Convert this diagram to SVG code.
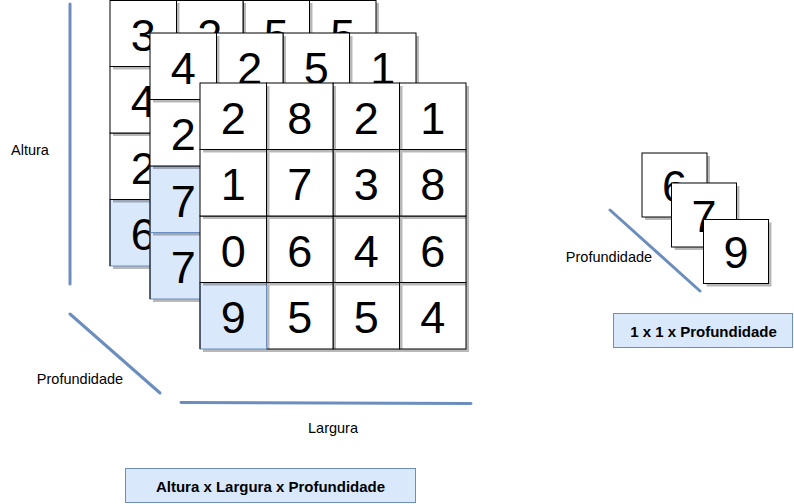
<svg xmlns="http://www.w3.org/2000/svg" width="794" height="504" viewBox="0 0 794 504">
<style>
.c{fill:#fff;stroke:#000;stroke-width:1}
.b{fill:#dae8fc;stroke:#6c8ebf;stroke-width:1}
.s{fill:#000;fill-opacity:.28;stroke:none}
.d{font-family:"Liberation Sans",Arial,sans-serif;font-size:45px;text-anchor:middle;fill:#000}
.l{font-family:"Liberation Sans",Arial,sans-serif;font-size:14.5px;text-anchor:middle;fill:#000}
.t{font-family:"Liberation Sans",Arial,sans-serif;font-size:15px;font-weight:bold;text-anchor:middle;fill:#000}
.ax{stroke:#6c8ebf;stroke-width:3;fill:none;stroke-linecap:round}
.bx{fill:#dae8fc;stroke:#6c8ebf;stroke-width:1}
</style>
<rect width="794" height="504" fill="#fff"/>

<g id="grid-back">
<g id="back-r3c3"><rect class="s" x="312.5" y="202.5" width="66.5" height="66.5"/><rect class="c" x="309.5" y="199.5" width="66.5" height="66.5"/></g>
<g id="back-r3c2"><rect class="s" x="246" y="202.5" width="66.5" height="66.5"/><rect class="c" x="243" y="199.5" width="66.5" height="66.5"/></g>
<g id="back-r3c1"><rect class="s" x="179.5" y="202.5" width="66.5" height="66.5"/><rect class="c" x="176.5" y="199.5" width="66.5" height="66.5"/></g>
<g id="back-r3c0"><rect class="s" x="113" y="202.5" width="66.5" height="66.5"/><rect class="b" x="110" y="199.5" width="66.5" height="66.5"/><line x1="110" y1="199.5" x2="110" y2="266" stroke="#000"/><text class="d" x="143.25" y="250">6</text></g>
<g id="back-r2c3"><rect class="s" x="312.5" y="136" width="66.5" height="66.5"/><rect class="c" x="309.5" y="133" width="66.5" height="66.5"/></g>
<g id="back-r2c2"><rect class="s" x="246" y="136" width="66.5" height="66.5"/><rect class="c" x="243" y="133" width="66.5" height="66.5"/></g>
<g id="back-r2c1"><rect class="s" x="179.5" y="136" width="66.5" height="66.5"/><rect class="c" x="176.5" y="133" width="66.5" height="66.5"/></g>
<g id="back-r2c0"><rect class="s" x="113" y="136" width="66.5" height="66.5"/><rect class="c" x="110" y="133" width="66.5" height="66.5"/><text class="d" x="143.25" y="183.5">2</text></g>
<g id="back-r1c3"><rect class="s" x="312.5" y="69.5" width="66.5" height="66.5"/><rect class="c" x="309.5" y="66.5" width="66.5" height="66.5"/></g>
<g id="back-r1c2"><rect class="s" x="246" y="69.5" width="66.5" height="66.5"/><rect class="c" x="243" y="66.5" width="66.5" height="66.5"/></g>
<g id="back-r1c1"><rect class="s" x="179.5" y="69.5" width="66.5" height="66.5"/><rect class="c" x="176.5" y="66.5" width="66.5" height="66.5"/></g>
<g id="back-r1c0"><rect class="s" x="113" y="69.5" width="66.5" height="66.5"/><rect class="c" x="110" y="66.5" width="66.5" height="66.5"/><text class="d" x="143.25" y="117">4</text></g>
<g id="back-r0c3"><rect class="s" x="312.5" y="3" width="66.5" height="66.5"/><rect class="c" x="309.5" y="0.5" width="66.5" height="66"/><text class="d" x="342.75" y="50.5">5</text></g>
<g id="back-r0c2"><rect class="s" x="246" y="3" width="66.5" height="66.5"/><rect class="c" x="243" y="0.5" width="66.5" height="66"/><text class="d" x="276.25" y="50.5">5</text></g>
<g id="back-r0c1"><rect class="s" x="179.5" y="3" width="66.5" height="66.5"/><rect class="c" x="176.5" y="0.5" width="66.5" height="66"/><text class="d" x="209.75" y="50.5">2</text></g>
<g id="back-r0c0"><rect class="s" x="113" y="3" width="66.5" height="66.5"/><rect class="c" x="110" y="0.5" width="66.5" height="66"/><text class="d" x="143.25" y="50.5">3</text></g>
</g>

<g id="grid-middle">
<g id="mid-r3c3"><rect class="s" x="352.5" y="235.5" width="66.5" height="66.5"/><rect class="c" x="349.5" y="232.5" width="66.5" height="66.5"/></g>
<g id="mid-r3c2"><rect class="s" x="286" y="235.5" width="66.5" height="66.5"/><rect class="c" x="283" y="232.5" width="66.5" height="66.5"/></g>
<g id="mid-r3c1"><rect class="s" x="219.5" y="235.5" width="66.5" height="66.5"/><rect class="c" x="216.5" y="232.5" width="66.5" height="66.5"/></g>
<g id="mid-r3c0"><rect class="s" x="153" y="235.5" width="66.5" height="66.5"/><rect class="b" x="150" y="232.5" width="66.5" height="66.5"/><line x1="150" y1="232.5" x2="150" y2="299" stroke="#000"/><text class="d" x="183.25" y="283">7</text></g>
<g id="mid-r2c3"><rect class="s" x="352.5" y="169" width="66.5" height="66.5"/><rect class="c" x="349.5" y="166" width="66.5" height="66.5"/></g>
<g id="mid-r2c2"><rect class="s" x="286" y="169" width="66.5" height="66.5"/><rect class="c" x="283" y="166" width="66.5" height="66.5"/></g>
<g id="mid-r2c1"><rect class="s" x="219.5" y="169" width="66.5" height="66.5"/><rect class="c" x="216.5" y="166" width="66.5" height="66.5"/></g>
<g id="mid-r2c0"><rect class="s" x="153" y="169" width="66.5" height="66.5"/><rect class="b" x="150" y="166" width="66.5" height="66.5"/><line x1="150" y1="166" x2="150" y2="232.5" stroke="#000"/><text class="d" x="183.25" y="216.5">7</text></g>
<g id="mid-r1c3"><rect class="s" x="352.5" y="102.5" width="66.5" height="66.5"/><rect class="c" x="349.5" y="99.5" width="66.5" height="66.5"/></g>
<g id="mid-r1c2"><rect class="s" x="286" y="102.5" width="66.5" height="66.5"/><rect class="c" x="283" y="99.5" width="66.5" height="66.5"/></g>
<g id="mid-r1c1"><rect class="s" x="219.5" y="102.5" width="66.5" height="66.5"/><rect class="c" x="216.5" y="99.5" width="66.5" height="66.5"/></g>
<g id="mid-r1c0"><rect class="s" x="153" y="102.5" width="66.5" height="66.5"/><rect class="c" x="150" y="99.5" width="66.5" height="66.5"/><text class="d" x="183.25" y="150">2</text></g>
<g id="mid-r0c3"><rect class="s" x="352.5" y="36" width="66.5" height="66.5"/><rect class="c" x="349.5" y="33" width="66.5" height="66.5"/><text class="d" x="382.75" y="83.5">1</text></g>
<g id="mid-r0c2"><rect class="s" x="286" y="36" width="66.5" height="66.5"/><rect class="c" x="283" y="33" width="66.5" height="66.5"/><text class="d" x="316.25" y="83.5">5</text></g>
<g id="mid-r0c1"><rect class="s" x="219.5" y="36" width="66.5" height="66.5"/><rect class="c" x="216.5" y="33" width="66.5" height="66.5"/><text class="d" x="249.75" y="83.5">2</text></g>
<g id="mid-r0c0"><rect class="s" x="153" y="36" width="66.5" height="66.5"/><rect class="c" x="150" y="33" width="66.5" height="66.5"/><text class="d" x="183.25" y="83.5">4</text></g>
</g>

<g id="grid-front">
<g id="front-r3c3"><rect class="s" x="402.5" y="285.5" width="66.5" height="66.5"/><rect class="c" x="399.5" y="282.5" width="66.5" height="66.5"/><text class="d" x="432.75" y="333">4</text></g>
<g id="front-r3c2"><rect class="s" x="336" y="285.5" width="66.5" height="66.5"/><rect class="c" x="333" y="282.5" width="66.5" height="66.5"/><text class="d" x="366.25" y="333">5</text></g>
<g id="front-r3c1"><rect class="s" x="269.5" y="285.5" width="66.5" height="66.5"/><rect class="c" x="266.5" y="282.5" width="66.5" height="66.5"/><text class="d" x="299.75" y="333">5</text></g>
<g id="front-r3c0"><rect class="s" x="203" y="285.5" width="66.5" height="66.5"/><rect class="b" x="200" y="282.5" width="66.5" height="66.5"/><line x1="200" y1="282.5" x2="200" y2="349" stroke="#000"/><text class="d" x="233.25" y="333">9</text></g>
<g id="front-r2c3"><rect class="s" x="402.5" y="219" width="66.5" height="66.5"/><rect class="c" x="399.5" y="216" width="66.5" height="66.5"/><text class="d" x="432.75" y="266.5">6</text></g>
<g id="front-r2c2"><rect class="s" x="336" y="219" width="66.5" height="66.5"/><rect class="c" x="333" y="216" width="66.5" height="66.5"/><text class="d" x="366.25" y="266.5">4</text></g>
<g id="front-r2c1"><rect class="s" x="269.5" y="219" width="66.5" height="66.5"/><rect class="c" x="266.5" y="216" width="66.5" height="66.5"/><text class="d" x="299.75" y="266.5">6</text></g>
<g id="front-r2c0"><rect class="s" x="203" y="219" width="66.5" height="66.5"/><rect class="c" x="200" y="216" width="66.5" height="66.5"/><text class="d" x="233.25" y="266.5">0</text></g>
<g id="front-r1c3"><rect class="s" x="402.5" y="152.5" width="66.5" height="66.5"/><rect class="c" x="399.5" y="149.5" width="66.5" height="66.5"/><text class="d" x="432.75" y="200">8</text></g>
<g id="front-r1c2"><rect class="s" x="336" y="152.5" width="66.5" height="66.5"/><rect class="c" x="333" y="149.5" width="66.5" height="66.5"/><text class="d" x="366.25" y="200">3</text></g>
<g id="front-r1c1"><rect class="s" x="269.5" y="152.5" width="66.5" height="66.5"/><rect class="c" x="266.5" y="149.5" width="66.5" height="66.5"/><text class="d" x="299.75" y="200">7</text></g>
<g id="front-r1c0"><rect class="s" x="203" y="152.5" width="66.5" height="66.5"/><rect class="c" x="200" y="149.5" width="66.5" height="66.5"/><text class="d" x="233.25" y="200">1</text></g>
<g id="front-r0c3"><rect class="s" x="402.5" y="86" width="66.5" height="66.5"/><rect class="c" x="399.5" y="83" width="66.5" height="66.5"/><text class="d" x="432.75" y="133.5">1</text></g>
<g id="front-r0c2"><rect class="s" x="336" y="86" width="66.5" height="66.5"/><rect class="c" x="333" y="83" width="66.5" height="66.5"/><text class="d" x="366.25" y="133.5">2</text></g>
<g id="front-r0c1"><rect class="s" x="269.5" y="86" width="66.5" height="66.5"/><rect class="c" x="266.5" y="83" width="66.5" height="66.5"/><text class="d" x="299.75" y="133.5">8</text></g>
<g id="front-r0c0"><rect class="s" x="203" y="86" width="66.5" height="66.5"/><rect class="c" x="200" y="83" width="66.5" height="66.5"/><text class="d" x="233.25" y="133.5">2</text></g>
</g>

<g id="depth-vector">
<g id="vec-6"><rect class="s" x="645" y="156" width="65" height="64"/><rect class="c" x="642" y="153" width="65" height="64"/><text class="d" x="674.5" y="202">6</text></g>
<g id="vec-7"><rect class="s" x="674.5" y="186" width="65" height="64"/><rect class="c" x="671.5" y="183" width="65" height="64"/><text class="d" x="704" y="232">7</text></g>
<g id="vec-9"><rect class="s" x="706.5" y="222.5" width="65" height="64"/><rect class="c" x="703.5" y="219.5" width="65" height="64"/><text class="d" x="736" y="267.5">9</text></g>
</g>

<g id="connectors">
<line class="ax" x1="70" y1="4" x2="70" y2="284"/>
<line class="ax" x1="70" y1="314" x2="160" y2="393"/>
<line class="ax" x1="181" y1="402.5" x2="471" y2="403.5"/>
<line class="ax" x1="610" y1="210" x2="700" y2="291"/>
</g>

<g id="labels">
<text class="l" x="30" y="155">Altura</text>
<text class="l" x="80" y="384">Profundidade</text>
<text class="l" x="333" y="433">Largura</text>
<text class="l" x="609" y="262">Profundidade</text>
</g>

<g id="box-full">
<rect class="bx" x="125.5" y="468.5" width="290" height="34"/>
<text class="t" x="270.5" y="492">Altura x Largura x Profundidade</text>
</g>
<g id="box-depth">
<rect class="bx" x="613.5" y="313.5" width="179" height="34"/>
<text class="t" x="703.5" y="336.5">1 x 1 x Profundidade</text>
</g>
</svg>
